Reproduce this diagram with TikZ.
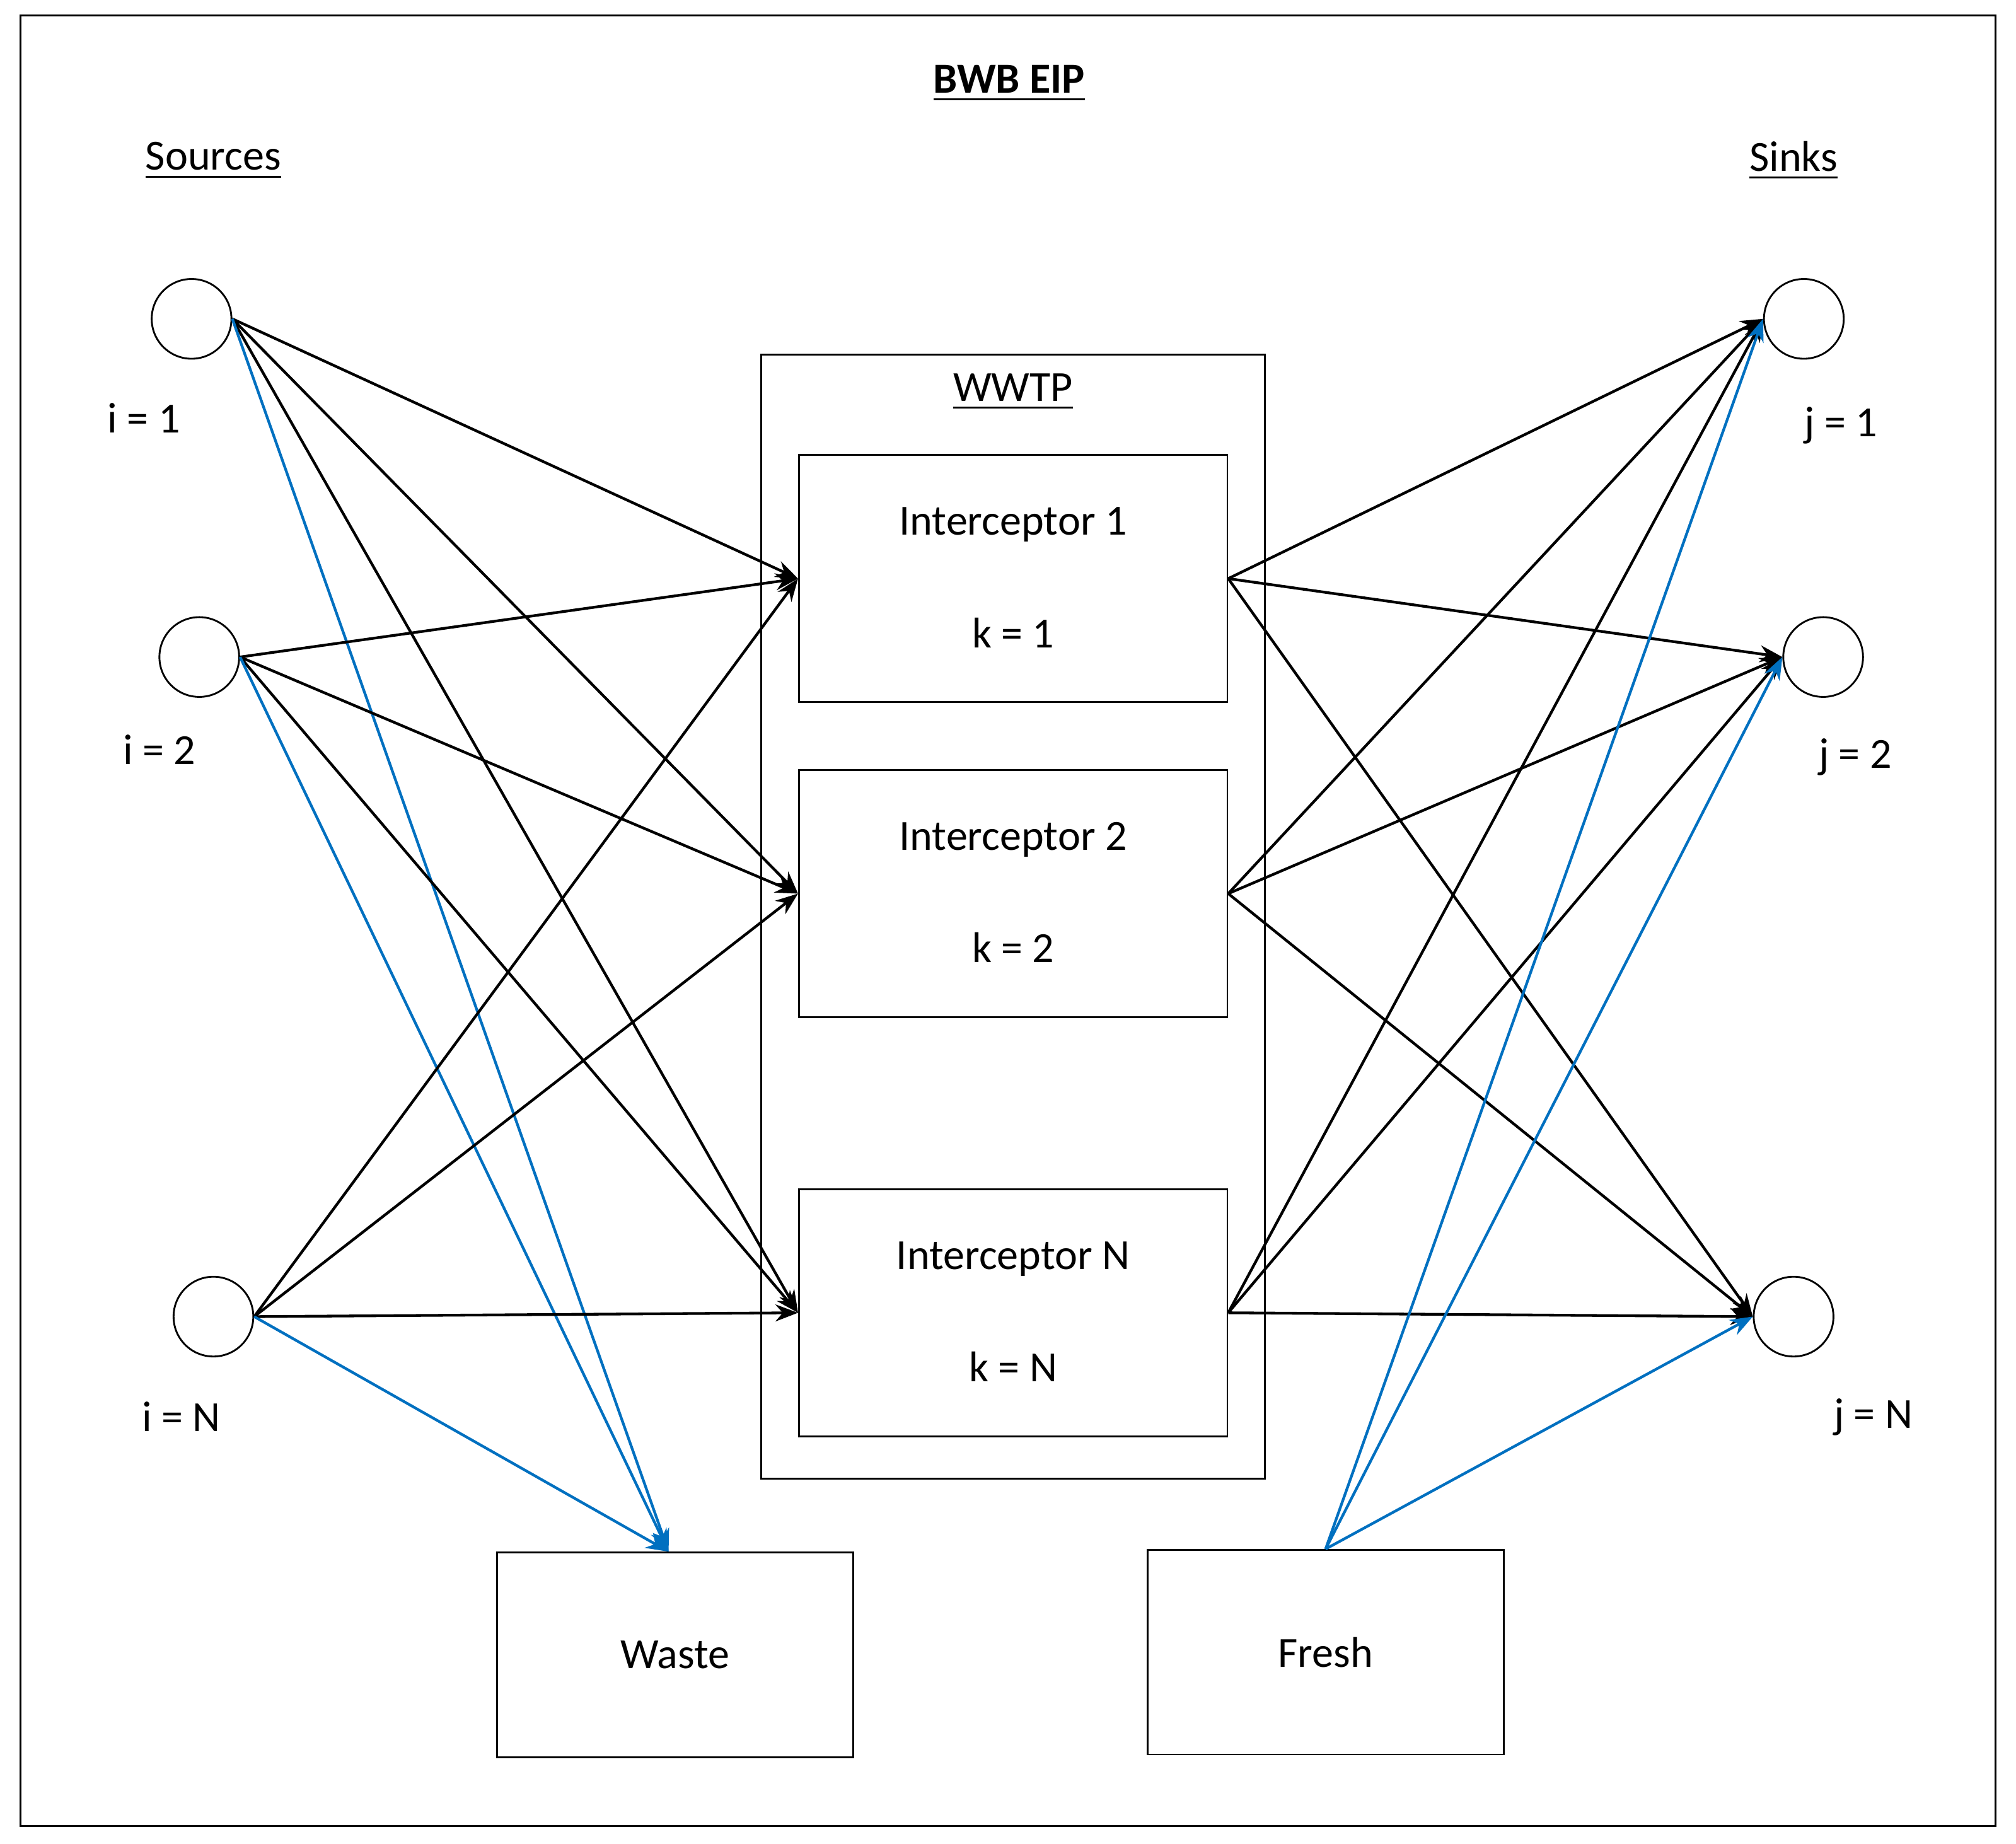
\documentclass[tikz,border=0pt]{standalone}
\usepackage{fontspec}
\setmainfont{Carlito}
\usetikzlibrary{arrows.meta,positioning}
\definecolor{flowblue}{HTML}{0070C0}

\begin{document}
\begin{tikzpicture}[x=0.01cm,y=-0.01cm,font=\fontsize{9.5pt}{11pt}\selectfont,
  unit/.style={circle,draw,thin,minimum size=0.62cm,inner sep=0pt},
  box/.style={draw,thin,minimum width=3.33cm,minimum height=1.92cm},
  flow/.style={-{Stealth[length=5pt]},semithick},
  blueflow/.style={flow,flowblue}]
  \useasboundingbox (0,0) rectangle (1568,1434);
  \draw[thin] (16,12) rectangle (1552,1420);
  \node[font=\fontsize{9.5pt}{11pt}\selectfont\bfseries] at (785,65) {\underline{BWB EIP}};
  \node at (166,125) {\underline{Sources}};
  \node at (1395,125) {\underline{Sinks}};
  % sources and sinks
  \node[unit] (src1) at (149,248) {};
  \node[unit] (src2) at (155,511) {};
  \node[unit] (srcN) at (166,1024) {};
  \node at (112,325) {i = 1};
  \node at (124,583) {i = 2};
  \node at (141,1102) {i = N};
  \node[unit] (snk1) at (1403,248) {};
  \node[unit] (snk2) at (1418,511) {};
  \node[unit] (snkN) at (1395,1024) {};
  \node at (1432,331) {j = 1};
  \node at (1443,589) {j = 2};
  \node at (1457,1102) {j = N};
  % WWTP
  \draw[thin] (592,276) rectangle (984,1150);
  \node at (788,305) {\underline{WWTP}};
  \foreach \n/\k/\y in {1/1/450,2/2/695,N/N/1021}{
    \node[box] (int\n) at (788,\y) {};
    \node at (788,\y-42) {Interceptor \n};
    \node at (788,\y+42) {k = \k};
  }
  \node[box,minimum width=2.77cm,minimum height=1.59cm] (waste) at (525,1287) {Waste};
  \node[box,minimum width=2.77cm,minimum height=1.59cm] (fresh) at (1031,1285) {Fresh};
  % flows
  \foreach \s in {src1,src2,srcN}{
    \foreach \k in {1,2,N}
      \draw[flow] (\s.east) -- (int\k.west);
    \draw[blueflow] (\s.east) -- ([xshift=-0.05cm]waste.north);
  }
  \foreach \k in {1,2,N}{
    \foreach \t in {snk1,snk2,snkN}
      \draw[flow] (int\k.east) -- (\t.west);
  }
  \foreach \t in {snk1,snk2,snkN}
    \draw[blueflow] (fresh.north) -- (\t.west);
\end{tikzpicture}
\end{document}
